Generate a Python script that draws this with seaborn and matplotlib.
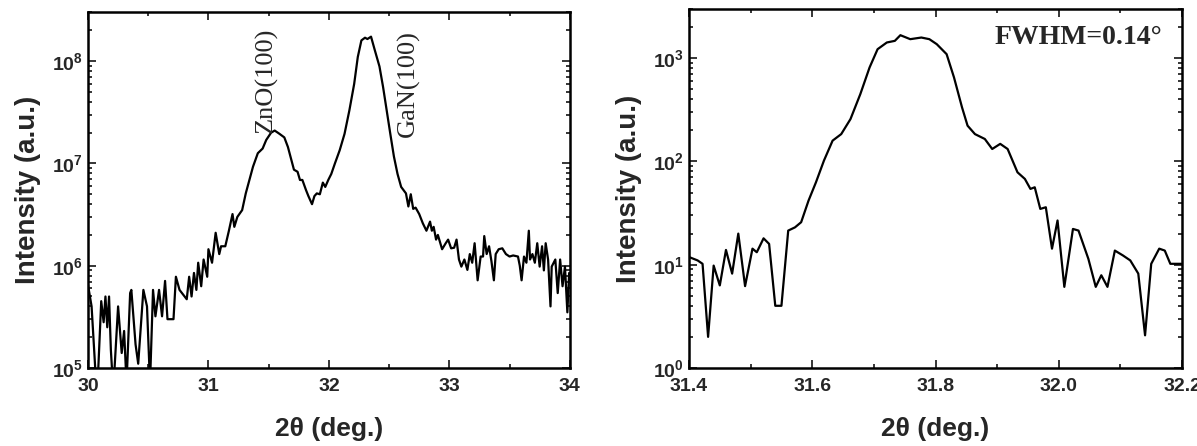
import numpy as np
import pandas as pd
import matplotlib
matplotlib.use("Agg")
import matplotlib.pyplot as plt
import matplotlib.ticker as mticker
import seaborn as sns

# Wide scan: ZnO(100) and GaN(100) reflections
wide_two_theta = [
    30.00, 30.03, 30.06, 30.08, 30.11, 30.13, 30.145, 30.16, 30.175, 30.19,
    30.21, 30.25, 30.28, 30.30, 30.32, 30.35, 30.36, 30.395, 30.417, 30.46,
    30.49, 30.515, 30.54, 30.56, 30.59, 30.615, 30.64, 30.66, 30.71, 30.73,
    30.76, 30.78, 30.82, 30.84, 30.86, 30.88, 30.90, 30.915, 30.94, 30.96,
    30.99, 31.00, 31.03, 31.06, 31.09, 31.105, 31.14, 31.17, 31.20, 31.215,
    31.24, 31.28, 31.31, 31.34, 31.37, 31.41, 31.45, 31.48, 31.52, 31.55,
    31.59, 31.63, 31.66, 31.69, 31.71, 31.74, 31.76, 31.78, 31.81, 31.83,
    31.86, 31.88, 31.90, 31.925, 31.95, 31.97, 31.995, 32.02, 32.05, 32.09,
    32.13, 32.17, 32.21, 32.24, 32.27, 32.30, 32.32, 32.35, 32.38, 32.42,
    32.45, 32.48, 32.51, 32.54, 32.57, 32.60, 32.64, 32.66, 32.68, 32.70,
    32.72, 32.75, 32.78, 32.81, 32.84, 32.855, 32.87, 32.89, 32.905, 32.94,
    32.97, 32.99, 33.015, 33.04, 33.06, 33.08, 33.10, 33.125, 33.15, 33.17,
    33.19, 33.21, 33.235, 33.26, 33.28, 33.29, 33.31, 33.33, 33.35, 33.37,
    33.385, 33.41, 33.44, 33.47, 33.50, 33.53, 33.57, 33.585, 33.60, 33.62,
    33.64, 33.66, 33.67, 33.69, 33.71, 33.73, 33.75, 33.77, 33.785, 33.80,
    33.82, 33.84, 33.85, 33.88, 33.90, 33.92, 33.94, 33.96, 33.98, 33.995,
]
wide_intensity = [
    6.5e5, 4.0e5, 1.0e5, 7.0e4, 4.5e5, 2.8e5, 5.0e5, 2.5e5, 5.0e5, 1.5e5,
    6.0e4, 4.0e5, 1.4e5, 2.3e5, 7.0e4, 5.4e5, 5.8e5, 1.7e5, 1.1e5, 5.8e5,
    4.0e5, 7.0e4, 5.8e5, 3.2e5, 5.8e5, 3.2e5, 7.1e5, 3.0e5, 3.0e5, 7.8e5,
    5.8e5, 5.4e5, 4.7e5, 7.8e5, 5.0e5, 8.5e5, 5.8e5, 1.07e6, 6.3e5, 1.15e6,
    7.8e5, 1.45e6, 1.07e6, 2.1e6, 1.3e6, 1.55e6, 1.55e6, 2.2e6, 3.2e6, 2.4e6,
    3.0e6, 3.5e6, 5.1e6, 6.9e6, 9.3e6, 1.26e7, 1.4e7, 1.7e7, 2.0e7, 2.1e7,
    1.95e7, 1.8e7, 1.45e7, 1.07e7, 8.7e6, 8.3e6, 6.9e6, 6.9e6, 5.5e6, 4.8e6,
    4.0e6, 4.8e6, 5.1e6, 5.0e6, 6.5e6, 5.9e6, 6.9e6, 7.9e6, 1.0e7, 1.35e7,
    1.95e7, 3.3e7, 6.0e7, 1.1e8, 1.6e8, 1.7e8, 1.65e8, 1.74e8, 1.3e8, 8.9e7,
    5.6e7, 3.3e7, 1.95e7, 1.17e7, 7.9e6, 5.9e6, 5.1e6, 3.8e6, 5.0e6, 3.6e6,
    3.7e6, 3.2e6, 2.6e6, 2.2e6, 2.7e6, 2.2e6, 2.4e6, 1.8e6, 2.0e6, 1.45e6,
    1.66e6, 1.8e6, 1.48e6, 1.5e6, 1.8e6, 1.15e6, 9.8e5, 1.15e6, 9.1e5, 1.3e6,
    1.07e6, 1.66e6, 7.2e5, 1.23e6, 1.23e6, 1.95e6, 1.3e6, 1.55e6, 1.1e6, 7.2e5,
    1.3e6, 1.45e6, 1.48e6, 1.3e6, 1.23e6, 1.26e6, 1.23e6, 1.0e6, 7.2e5, 1.23e6,
    1.07e6, 2.2e6, 1.15e6, 1.3e6, 1.07e6, 1.66e6, 9.8e5, 1.55e6, 9.0e5, 1.66e6,
    1.15e6, 4.0e5, 9.8e5, 1.15e6, 5.4e5, 1.15e6, 6.3e5, 9.8e5, 3.5e5, 8.5e5,
]

# Narrow scan around the ZnO peak
narrow_two_theta = [
    31.401, 31.414, 31.422, 31.431, 31.440, 31.450, 31.460, 31.470, 31.480, 31.491,
    31.503, 31.510, 31.521, 31.530, 31.540, 31.550, 31.561, 31.572, 31.582, 31.594,
    31.606, 31.619, 31.633, 31.647, 31.662, 31.678, 31.693, 31.706, 31.721, 31.734,
    31.743, 31.759, 31.777, 31.790, 31.802, 31.818, 31.830, 31.843, 31.852, 31.864,
    31.880, 31.892, 31.905, 31.917, 31.933, 31.945, 31.954, 31.961, 31.970, 31.979,
    31.989, 31.998, 32.009, 32.023, 32.032, 32.048, 32.060, 32.069, 32.079, 32.091,
    32.104, 32.116, 32.129, 32.140, 32.150, 32.163, 32.172, 32.181, 32.199,
]
narrow_intensity = [
    11.8, 11.0, 10.2, 2.0, 9.8, 6.3, 13.9, 8.2, 20.0, 6.2,
    14.3, 13.2, 18.0, 15.9, 4.0, 4.0, 21.4, 23.0, 25.8, 41.8,
    62.8, 102, 159, 184, 257, 449, 813, 1222, 1419, 1472,
    1670, 1528, 1585, 1528, 1367, 1094, 651, 334, 222, 184,
    165, 132, 148, 132, 78.5, 67.7, 54.2, 56.2, 34.7, 36.0,
    14.3, 26.8, 6.1, 22.2, 21.4, 11.4, 6.1, 7.9, 6.1, 13.7,
    12.3, 11.0, 8.2, 2.07, 10.2, 14.3, 13.7, 10.2, 10.2,
]

wide_df = pd.DataFrame({"two_theta": wide_two_theta, "intensity": wide_intensity})
narrow_df = pd.DataFrame({"two_theta": narrow_two_theta, "intensity": narrow_intensity})

sns.set_style("ticks")
plt.rcParams["font.family"] = ["Liberation Sans", "DejaVu Sans"]
plt.rcParams["font.weight"] = "bold"
plt.rcParams["mathtext.fontset"] = "custom"
plt.rcParams["mathtext.rm"] = "Liberation Sans:bold"
plt.rcParams["mathtext.bf"] = "Liberation Sans:bold"
plt.rcParams["mathtext.it"] = "Liberation Sans:bold"
plt.rcParams["mathtext.default"] = "bf"

fig = plt.figure(figsize=(11.97, 4.46), dpi=100)
ax1 = fig.add_axes([0.0735, 0.175, 0.4025, 0.797])
ax2 = fig.add_axes([0.5756, 0.175, 0.4119, 0.805])


def style_axis(ax, xlim, ylim, xmajor, xminor):
    ax.set_yscale("log")
    ax.set_xlim(*xlim)
    ax.set_ylim(*ylim)
    ax.xaxis.set_major_locator(mticker.MultipleLocator(xmajor))
    ax.xaxis.set_minor_locator(mticker.MultipleLocator(xminor))
    ax.yaxis.set_major_locator(mticker.LogLocator(base=10, numticks=12))
    ax.yaxis.set_minor_locator(mticker.LogLocator(base=10, subs=np.arange(2, 10), numticks=12))
    ax.yaxis.set_major_formatter(mticker.LogFormatterMathtext())
    ax.yaxis.set_minor_formatter(mticker.NullFormatter())
    ax.tick_params(which="both", direction="in", top=True, right=True, width=1.3)
    ax.tick_params(which="major", length=6, labelsize=14)
    ax.tick_params(which="minor", length=3)
    ax.tick_params(axis="x", which="major", pad=7)
    for sp in ax.spines.values():
        sp.set_visible(True)
        sp.set_linewidth(1.8)
        sp.set_color("black")
    ax.set_ylabel("Intensity (a.u.)", fontsize=20, fontweight="bold", labelpad=8)
    ax.set_xlabel("2θ (deg.)", fontsize=19, fontweight="bold", labelpad=16)
    for lab in ax.get_xticklabels() + ax.get_yticklabels():
        lab.set_fontweight("bold")


sns.lineplot(data=wide_df, x="two_theta", y="intensity", ax=ax1, color="black",
             linewidth=1.6, estimator=None, sort=False)
style_axis(ax1, (30, 34), (1e5, 3e8), 1, 0.5)
ax1.xaxis.set_major_formatter(mticker.FormatStrFormatter("%d"))
ax1.text(31.48, 2.0e7, "ZnO(100)", rotation=90, ha="center", va="bottom",
         fontsize=19, family="Liberation Serif", fontweight="normal")
ax1.text(32.66, 1.8e7, "GaN(100)", rotation=90, ha="center", va="bottom",
         fontsize=19, family="Liberation Serif", fontweight="normal")

sns.lineplot(data=narrow_df, x="two_theta", y="intensity", ax=ax2, color="black",
             linewidth=1.6, estimator=None, sort=False)
style_axis(ax2, (31.4, 32.2), (1, 3e3), 0.2, 0.1)
ax2.xaxis.set_major_formatter(mticker.FormatStrFormatter("%.1f"))
ax2.text(0.96, 0.92, "FWHM=0.14°", transform=ax2.transAxes, ha="right", va="center",
         fontsize=20, family="Liberation Serif", fontweight="bold")

fig.savefig("out.png", dpi=100)
